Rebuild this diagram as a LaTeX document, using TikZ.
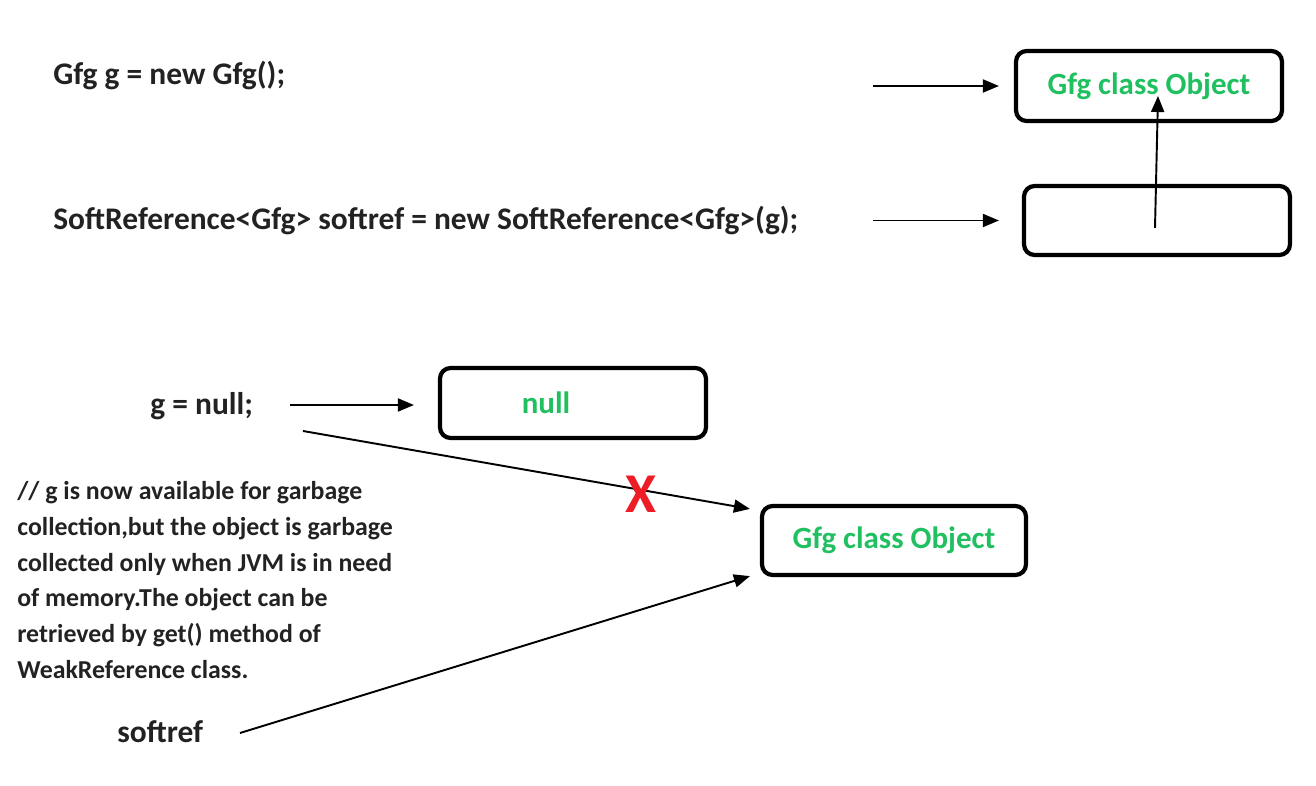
\documentclass[tikz,border=0pt]{standalone}
\usepackage{fontspec}
\setmainfont{Carlito}
\usepackage{tikz}
\usepackage{xcolor}
\usetikzlibrary{positioning,arrows.meta}
\definecolor{objgreen}{HTML}{20C060}
\definecolor{crossred}{HTML}{EE1C25}
\definecolor{notegray}{HTML}{222222}

\begin{document}
\begin{tikzpicture}[
        x=0.02cm, y=-0.02cm,
        every node/.style={align=center},
        objbox/.style={draw=black, line width=2.4pt, rounded corners=6pt, minimum width=5.32cm, minimum height=1.4cm,
                       text=objgreen, font=\fontsize{17.6}{21}\selectfont\bfseries},
        codetxt/.style={anchor=base west, inner sep=0pt, text=notegray, font=\fontsize{17.9}{21}\selectfont\bfseries},
        note/.style={anchor=north west, inner sep=0pt, align=left, text=notegray, font=\fontsize{14.7}{20.4}\selectfont\bfseries},
        cross/.style={text=crossred, font=\fontsize{32}{32}\selectfont\bfseries, inner sep=0pt},
        arr/.style={-{Triangle[length=0.32cm,width=0.26cm]}, line width=1.1pt}
      ]
        \useasboundingbox (0,0) rectangle (1316,786);
        % statements
        \node[codetxt] (newgfg) at (53,85) {Gfg g = new Gfg();};
        \node[codetxt] (softdecl) at (53,230) {SoftReference<Gfg> softref = new SoftReference<Gfg>(g);};
        \node[codetxt] (setnull) at (150,415) {g = null;};
        \node[codetxt] (softref) at (117,743) {softref};
        \node[note] (comment) at (17,481) {// g is now available for garbage\\collection,but the object is garbage\\collected only when JVM is in need\\of memory.The object can be\\retrieved by get() method of\\WeakReference class.};
        % heap boxes
        \node[objbox] (obj1) at (1149,86) {Gfg class Object};
        \node[objbox, minimum height=1.38cm] (refbox) at (1157,220.5) {};
        \node[objbox] (nullbox) at (573,403) {};
        \node[text=objgreen, font=\fontsize{17.6}{21}\selectfont\bfseries] (nulltxt) at (546,403) {null};
        \node[objbox, minimum width=5.28cm, minimum height=1.38cm] (obj2) at (894,540.5) {Gfg class Object};
        % connector ends
        \coordinate (from1) at (873,86);
        \coordinate (from2) at (873,220.5);
        \coordinate (from3) at (290,405);
        \coordinate (from4) at (303,431);
        \coordinate (from5) at (240,733);
        \coordinate (refin) at (1155,228);
        \coordinate (objin) at (1158,96);
        \coordinate (tip1) at ([xshift=-0.2cm,yshift=-0.1cm]obj2.north west);
        \coordinate (tip2) at ([xshift=-0.2cm,yshift=0.02cm]obj2.south west);
        \draw[arr, shorten >=0.3cm] (from1) -- (from1 -| obj1.west);
        \draw[arr, shorten >=0.46cm] (from2) -- (from2 -| refbox.west);
        \draw[arr] (refin) -- (objin);
        \draw[arr, shorten >=0.48cm] (from3) -- (from3 -| nullbox.west);
        \draw[arr] (from4) -- (tip1);
        \draw[arr] (from5) -- (tip2);
        \node[cross] (gone) at (641,494) {X};
      \end{tikzpicture}
\end{document}
